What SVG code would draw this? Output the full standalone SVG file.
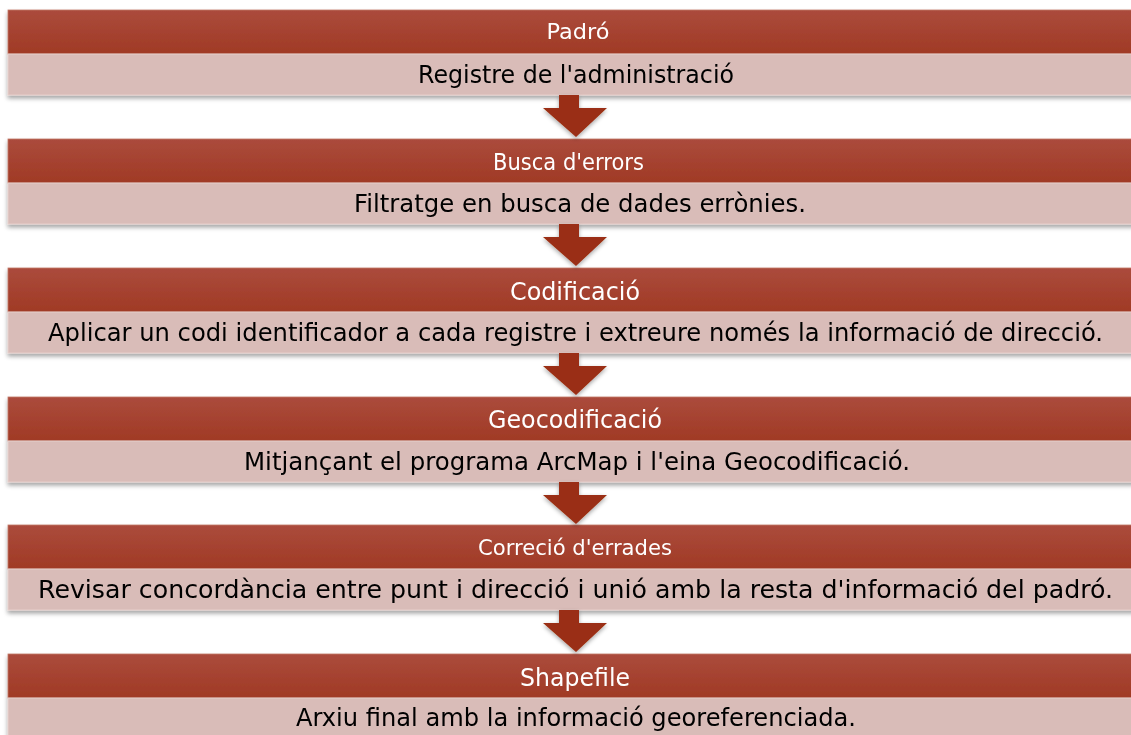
<svg xmlns="http://www.w3.org/2000/svg" width="1131" height="735" viewBox="0 0 1131 735">
<defs>
<linearGradient id="hg" x1="0" y1="0" x2="0" y2="1">
<stop offset="0" stop-color="#AB4B3C"/>
<stop offset="1" stop-color="#A03A25"/>
</linearGradient>
<filter id="sh" x="-5%" y="-20%" width="110%" height="150%">
<feDropShadow dx="0" dy="3" stdDeviation="2" flood-color="#000" flood-opacity="0.35"/>
</filter>
<filter id="ash" x="-30%" y="-30%" width="160%" height="160%">
<feDropShadow dx="0" dy="2" stdDeviation="2" flood-color="#000" flood-opacity="0.35"/>
</filter>
<path id="arrow" d="M559,0 H579 V13 H607 L576,42 L543,13 H559 Z"/>
</defs>
<style>
.hd{fill:url(#hg);stroke:#C07868;stroke-width:0.8}
.bd{fill:#D9BCB8;stroke:#E6CFCB;stroke-width:1}
.ht{font-family:"DejaVu Sans","Liberation Sans",sans-serif;fill:#FFFFFF;text-anchor:middle}
.bt{font-family:"DejaVu Sans","Liberation Sans",sans-serif;fill:#000000;text-anchor:middle}
.ar{fill:#9A2F12}
</style>
<rect width="1131" height="735" fill="#FFFFFF"/>

<g id="stage1" filter="url(#sh)">
<rect class="hd" x="8" y="10" width="1134" height="44"/>
<rect class="bd" x="8" y="54" width="1134" height="41"/>
<text class="ht" x="578" y="39" font-size="22" textLength="63" lengthAdjust="spacingAndGlyphs">Padró</text>
<text class="bt" x="576" y="83" font-size="25" textLength="316" lengthAdjust="spacingAndGlyphs">Registre de l'administració</text>
</g>

<g id="stage2" filter="url(#sh)">
<rect class="hd" x="8" y="139" width="1134" height="44"/>
<rect class="bd" x="8" y="183" width="1134" height="41"/>
<text class="ht" x="568.5" y="170" font-size="23" textLength="151" lengthAdjust="spacingAndGlyphs">Busca d'errors</text>
<text class="bt" x="580" y="212" font-size="25" textLength="452" lengthAdjust="spacingAndGlyphs">Filtratge en busca de dades errònies.</text>
</g>

<g id="stage3" filter="url(#sh)">
<rect class="hd" x="8" y="268" width="1134" height="44"/>
<rect class="bd" x="8" y="312" width="1134" height="41"/>
<text class="ht" x="575" y="300" font-size="25" textLength="130" lengthAdjust="spacingAndGlyphs">Codificació</text>
<text class="bt" x="575.5" y="341" font-size="24" textLength="1055" lengthAdjust="spacingAndGlyphs">Aplicar un codi identificador a cada registre i extreure només la informació de direcció.</text>
</g>

<g id="stage4" filter="url(#sh)">
<rect class="hd" x="8" y="397" width="1134" height="44"/>
<rect class="bd" x="8" y="441" width="1134" height="41"/>
<text class="ht" x="575" y="428" font-size="25" textLength="174" lengthAdjust="spacingAndGlyphs">Geocodificació</text>
<text class="bt" x="577" y="470" font-size="25" textLength="666" lengthAdjust="spacingAndGlyphs">Mitjançant el programa ArcMap i l'eina Geocodificació.</text>
</g>

<g id="stage5" filter="url(#sh)">
<rect class="hd" x="8" y="525" width="1134" height="44"/>
<rect class="bd" x="8" y="569" width="1134" height="41"/>
<text class="ht" x="575" y="555" font-size="21" textLength="194" lengthAdjust="spacingAndGlyphs">Correció d'errades</text>
<text class="bt" x="575.5" y="598" font-size="24" textLength="1075" lengthAdjust="spacingAndGlyphs">Revisar concordància entre punt i direcció i unió amb la resta d'informació del padró.</text>
</g>

<g id="stage6" filter="url(#sh)">
<rect class="hd" x="8" y="654" width="1134" height="44"/>
<rect class="bd" x="8" y="698" width="1134" height="41"/>
<text class="ht" x="575" y="686" font-size="25" textLength="110" lengthAdjust="spacingAndGlyphs">Shapefile</text>
<text class="bt" x="576" y="726" font-size="25" textLength="560" lengthAdjust="spacingAndGlyphs">Arxiu final amb la informació georeferenciada.</text>
</g>

<g id="connectors" class="ar" filter="url(#ash)">
<use href="#arrow" y="95"/>
<use href="#arrow" y="224"/>
<use href="#arrow" y="353"/>
<use href="#arrow" y="482"/>
<use href="#arrow" y="610"/>
</g>
</svg>
